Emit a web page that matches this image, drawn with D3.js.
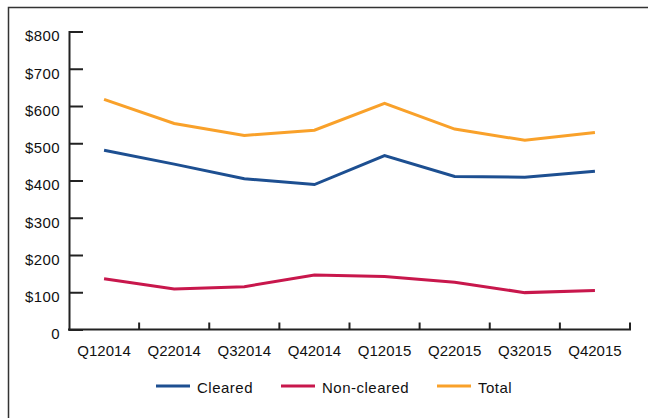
<!DOCTYPE html>
<html>
<head>
<meta charset="utf-8">
<script src="https://cdn.jsdelivr.net/npm/d3@7"></script>
<style>
  html, body { margin: 0; padding: 0; background: #fff; }
  svg { display: block; font-family: "Liberation Sans", Arial, sans-serif; }
</style>
</head>
<body>
<svg id="chart" width="648" height="418"></svg>
<script>
const categories = ["Q12014", "Q22014", "Q32014", "Q42014", "Q12015", "Q22015", "Q32015", "Q42015"];
const cleared    = [481, 444, 405, 389, 467, 411, 409, 425];
const nonCleared = [136, 109, 115, 146, 142, 127, 99, 105];
const total      = [618, 553, 521, 535, 607, 538, 508, 529];
const yTickValues = [0, 100, 200, 300, 400, 500, 600, 700, 800];
const yTickLabels = ["0", "$100", "$200", "$300", "$400", "$500", "$600", "$700", "$800"];
const seriesNames = ["Cleared", "Non-cleared", "Total"];
const seriesColors = ["#1d4f91", "#c8174c", "#f9a12a"];

const svg = d3.select("#chart");

// frame
svg.append("rect").attr("x", 8.5).attr("y", 7.5).attr("width", 700).attr("height", 500)
  .attr("fill", "none").attr("stroke", "#333").attr("stroke-width", 1.5);

const x = d3.scaleBand().domain(categories).range([69, 630]);
const y = d3.scaleLinear().domain([0, 800]).range([329.5, 31.5]);

// y axis
const yAxis = svg.append("g").attr("transform", "translate(69,0)")
  .call(d3.axisRight(y).tickValues(yTickValues).tickSize(14).tickFormat(""));
yAxis.select(".domain").attr("stroke", "#222").attr("stroke-width", 2);
yAxis.selectAll(".tick line").attr("stroke", "#222").attr("stroke-width", 2);

svg.append("g").selectAll("text").data(yTickValues).join("text")
  .attr("x", 60).attr("y", d => y(d) + 4.5).attr("dy", "0.36em")
  .attr("text-anchor", "end").attr("font-size", 15).attr("letter-spacing", 0.4).attr("fill", "#111")
  .text((d, i) => yTickLabels[i]);

// x axis
const xAxisG = svg.append("g");
xAxisG.append("line").attr("x1", 68).attr("x2", 631).attr("y1", y(0)).attr("y2", y(0))
  .attr("stroke", "#222").attr("stroke-width", 2);
xAxisG.selectAll("line.tick").data(categories).join("line").attr("class", "tick")
  .attr("x1", d => x(d) + x.bandwidth()).attr("x2", d => x(d) + x.bandwidth())
  .attr("y1", y(0)).attr("y2", y(0) - 7)
  .attr("stroke", "#222").attr("stroke-width", 2);
xAxisG.selectAll("text").data(categories).join("text")
  .attr("x", d => x(d) + x.bandwidth() / 2).attr("y", 356)
  .attr("text-anchor", "middle").attr("font-size", 15).attr("fill", "#111")
  .text(d => d);

// lines
const line = d3.line()
  .x((d, i) => x(categories[i]) + x.bandwidth() / 2)
  .y(d => y(d));
[cleared, nonCleared, total].forEach((s, k) => {
  svg.append("path").datum(s).attr("d", line)
    .attr("fill", "none").attr("stroke", seriesColors[k]).attr("stroke-width", 3)
    .attr("stroke-linejoin", "miter");
});

// legend
const legendX = [156, 281, 437];
const lg = svg.append("g");
seriesNames.forEach((n, k) => {
  lg.append("line").attr("x1", legendX[k]).attr("x2", legendX[k] + 34)
    .attr("y1", 386).attr("y2", 386).attr("stroke", seriesColors[k]).attr("stroke-width", 3);
  lg.append("text").attr("x", legendX[k] + 41).attr("y", 393)
    .attr("font-size", 15).attr("letter-spacing", 0.5).attr("fill", "#111").text(n);
});
</script>
</body>
</html>
